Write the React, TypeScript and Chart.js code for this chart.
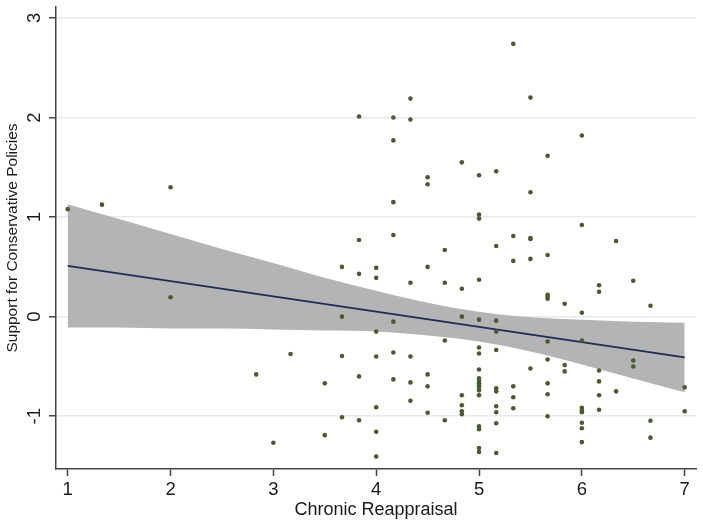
import React, { useEffect, useRef } from "react";
import { Chart, registerables } from "chart.js";

Chart.register(...registerables);

const xTicks = [1, 2, 3, 4, 5, 6, 7];
const yTicks = [-1, 0, 1, 2, 3];

// Observed data (x = Chronic Reappraisal, y = Support for Conservative Policies)
const reappraisal = [
  1,
  1.333,
  2, 2,
  2.833,
  3,
  3.167,
  3.5, 3.5,
  3.667, 3.667, 3.667, 3.667,
  3.833, 3.833, 3.833, 3.833, 3.833,
  4, 4, 4, 4, 4, 4, 4,
  4.167, 4.167, 4.167, 4.167, 4.167, 4.167, 4.167,
  4.333, 4.333, 4.333, 4.333, 4.333, 4.333,
  4.5, 4.5, 4.5, 4.5, 4.5, 4.5,
  4.667, 4.667, 4.667, 4.667,
  4.833, 4.833, 4.833, 4.833, 4.833, 4.833, 4.833,
  5, 5, 5, 5, 5, 5, 5, 5, 5, 5, 5, 5, 5, 5, 5, 5, 5, 5, 5,
  5.167, 5.167, 5.167, 5.167, 5.167, 5.167, 5.167, 5.167, 5.167, 5.167, 5.167,
  5.333, 5.333, 5.333, 5.333, 5.333, 5.333,
  5.5, 5.5, 5.5, 5.5, 5.5, 5.5,
  5.667, 5.667, 5.667, 5.667, 5.667, 5.667, 5.667, 5.667, 5.667, 5.667,
  5.833, 5.833, 5.833,
  6, 6, 6, 6, 6, 6, 6, 6, 6, 6,
  6.167, 6.167, 6.167, 6.167, 6.167, 6.167,
  6.333, 6.333,
  6.5, 6.5, 6.5,
  6.667, 6.667, 6.667,
  7, 7,
];

const support = [
  1.08,
  1.125,
  1.3, 0.195,
  -0.58,
  -1.266,
  -0.375,
  -0.67, -1.19,
  0.5, 0.0, -0.395, -1.01,
  2.01, 0.77, 0.43, -0.6, -1.04,
  0.49, 0.39, -0.15, -0.4, -0.91, -1.156, -1.405,
  2.0, 1.77, 1.15, 0.82, -0.05, -0.36, -0.63,
  2.19, 1.98, 0.34, -0.4, -0.66, -0.845,
  1.4, 1.33, 0.5, -0.58, -0.7, -0.965,
  0.67, 0.34, -0.24, -1.04,
  1.55, 0.28, 0.0, -0.79, -0.89, -0.95, -0.98,
  1.42, 1.025, 0.985, 0.37, -0.03, -0.31, -0.37, -0.53, -0.62, -0.645, -0.67, -0.69, -0.71, -0.74, -0.79, -1.1, -1.13, -1.32, -1.36,
  1.46, 0.71, -0.04, -0.15, -0.335, -0.72, -0.75, -0.9, -0.96, -1.07, -1.37,
  2.74, 0.81, 0.56, -0.7, -0.81, -0.92,
  2.2, 1.25, 0.79, 0.78, 0.58, -0.52,
  1.615, 0.62, 0.22, 0.2, 0.18, -0.25, -0.43, -0.67, -0.78, -1.0,
  0.13, -0.485, -0.55,
  1.82, 0.92, 0.04, -0.24, -0.915, -0.94, -0.96, -1.065, -1.12, -1.26,
  0.315, 0.25, -0.54, -0.65, -0.79, -0.935,
  0.76, -0.75,
  0.36, -0.44, -0.5,
  0.11, -1.045, -1.215,
  -0.71, -0.95,
];

// Linear fit line
const fitX = [1, 7];
const fitY = [0.51, -0.41];

// Confidence band
const bandX = [1, 1.5, 2, 2.5, 3, 3.5, 4, 4.5, 5, 5.5, 6, 6.5, 7];
const bandUpper = [1.13, 0.98, 0.83, 0.68, 0.54, 0.39, 0.26, 0.14, 0.05, -0.005, -0.03, -0.05, -0.06];
const bandLower = [-0.11, -0.11, -0.12, -0.12, -0.13, -0.14, -0.15, -0.19, -0.25, -0.35, -0.48, -0.62, -0.76];

const FONT = "'Liberation Sans', Arial, Helvetica, sans-serif";
const AXIS = "#444444";
const TEXT = "#1a1a1a";

export default function App() {
  const ref = useRef<HTMLCanvasElement | null>(null);

  useEffect(() => {
    document.body.style.margin = "0";
    const canvas = ref.current;
    if (!canvas) return;

    const points = reappraisal.map((x, i) => ({ x, y: support[i] }));
    const fit = fitX.map((x, i) => ({ x, y: fitY[i] }));
    const upper = bandX.map((x, i) => ({ x, y: bandUpper[i] }));
    const lower = bandX.map((x, i) => ({ x, y: bandLower[i] }));

    const chart = new Chart(canvas, {
      type: "scatter",
      data: {
        datasets: [
          {
            type: "scatter",
            data: points,
            backgroundColor: "#4b5a2f",
            borderColor: "rgba(0,0,0,0)",
            borderWidth: 0,
            pointRadius: 2.3,
          },
          {
            type: "line",
            data: fit,
            borderColor: "#1f2b58",
            borderWidth: 1.8,
            pointRadius: 0,
            fill: false,
          },
          {
            type: "line",
            data: upper,
            borderColor: "rgba(0,0,0,0)",
            borderWidth: 0,
            pointRadius: 0,
            backgroundColor: "#b4b4b4",
            fill: "+1",
            cubicInterpolationMode: "monotone",
          },
          {
            type: "line",
            data: lower,
            borderColor: "rgba(0,0,0,0)",
            borderWidth: 0,
            pointRadius: 0,
            fill: false,
            cubicInterpolationMode: "monotone",
          },
        ] as any,
      },
      options: {
        responsive: false,
        animation: false,
        layout: { padding: { top: 7, right: 7, left: 0, bottom: 0 } },
        plugins: {
          legend: { display: false },
          tooltip: { enabled: false },
        },
        scales: {
          x: {
            type: "linear",
            min: 0.886,
            max: 7.11,
            afterBuildTicks: (s: any) => {
              s.ticks = xTicks.map((v) => ({ value: v }));
            },
            afterFit: (s: any) => {
              s.height = 59;
              s.paddingLeft = 0;
              s.paddingRight = 0;
            },
            grid: {
              drawOnChartArea: false,
              drawTicks: true,
              tickLength: 7,
              tickColor: AXIS,
              tickWidth: 1.5,
            },
            border: { color: AXIS, width: 1.5 },
            ticks: {
              color: TEXT,
              font: { family: FONT, size: 18.5 },
              padding: 3,
              maxRotation: 0,
              autoSkip: false,
              callback: (v: any) => String(v),
            },
            title: {
              display: true,
              text: "Chronic Reappraisal",
              color: TEXT,
              font: { family: FONT, size: 18 },
              padding: { top: 7, bottom: 7 },
            },
          },
          y: {
            type: "linear",
            min: -1.53,
            max: 3.11,
            afterBuildTicks: (s: any) => {
              s.ticks = yTicks.map((v) => ({ value: v }));
            },
            afterFit: (s: any) => {
              s.width = 56;
              s.paddingTop = 0;
              s.paddingBottom = 0;
            },
            grid: {
              color: "#e4eaee",
              lineWidth: 1.5,
              drawTicks: true,
              tickLength: 7,
              tickColor: AXIS,
              tickWidth: 1.5,
            },
            border: { color: AXIS, width: 1.5 },
            ticks: {
              color: TEXT,
              font: { family: FONT, size: 18.5 },
              padding: 6,
              minRotation: 90,
              maxRotation: 90,
              crossAlign: "center",
              autoSkip: false,
              callback: (v: any) => String(v),
            },
            title: {
              display: true,
              text: "Support for Conservative Policies",
              color: TEXT,
              font: { family: FONT, size: 15.5 },
              padding: { top: 3, bottom: 3 },
            },
          },
        },
      } as any,
    });

    return () => chart.destroy();
  }, []);

  return (
    <div style={{ width: 703, height: 528 }}>
      <canvas ref={ref} width={703} height={528} style={{ display: "block" }} />
    </div>
  );
}
